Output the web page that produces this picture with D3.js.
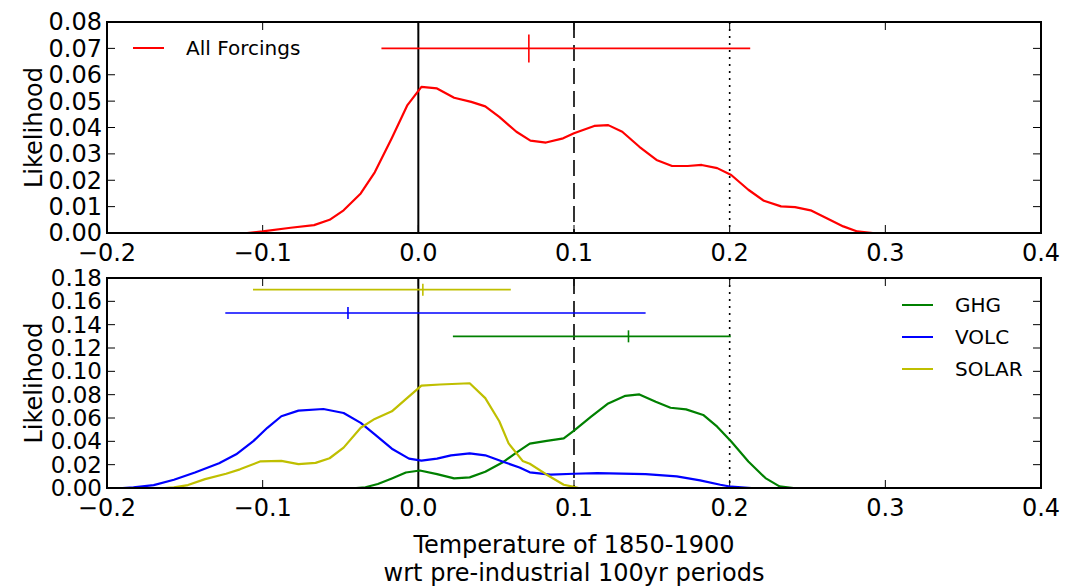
<!DOCTYPE html>
<html>
<head>
<meta charset="utf-8">
<script src="https://cdn.jsdelivr.net/npm/d3@7"></script>
<style>
  body { margin: 0; background: #fff; }
  text { font-family: "DejaVu Sans", sans-serif; fill: #000; }
</style>
</head>
<body>
<div id="chart"></div>
<script>
// ---- data ----
let allX = [-0.110,-0.100,-0.082,-0.067,-0.057,-0.048,-0.037,-0.028,-0.017,-0.007,0.002,0.012,0.023,0.034,0.043,0.052,0.063,0.072,0.082,0.093,0.100,0.113,0.122,0.131,0.142,0.153,0.163,0.173,0.182,0.192,0.201,0.212,0.222,0.233,0.242,0.252,0.263,0.273,0.282,0.292]
let allY = [0,0.0006,0.002,0.003,0.005,0.0086,0.015,0.023,0.036,0.0485,0.0554,0.0548,0.0513,0.0497,0.048,0.044,0.0384,0.035,0.0343,0.0359,0.0378,0.0406,0.0409,0.0384,0.0327,0.0277,0.0254,0.0254,0.0258,0.0246,0.022,0.0164,0.0122,0.0101,0.0098,0.0086,0.0054,0.0025,0.0006,0]

let ghgX = [-0.040,-0.034,-0.026,-0.017,-0.008,0.001,0.012,0.023,0.033,0.043,0.054,0.063,0.0716,0.0825,0.0934,0.100,0.111,0.122,0.133,0.142,0.1525,0.162,0.172,0.183,0.192,0.201,0.212,0.223,0.232,0.241]
let ghgY = [0,0.0006,0.0034,0.0082,0.0133,0.015,0.0119,0.0082,0.0091,0.0139,0.0218,0.0303,0.038,0.0404,0.0426,0.0492,0.0611,0.0725,0.079,0.0802,0.0739,0.0688,0.0674,0.0626,0.0526,0.0398,0.0227,0.0085,0.0014,0]

let volcX = [-0.190,-0.183,-0.170,-0.157,-0.1435,-0.128,-0.117,-0.106,-0.097,-0.088,-0.077,-0.061,-0.048,-0.037,-0.028,-0.017,-0.006,0.002,0.012,0.021,0.033,0.043,0.054,0.065,0.0716,0.085,0.100,0.115,0.146,0.166,0.181,0.194,0.201,0.214]
let volcY = [0,0.0006,0.0025,0.0071,0.0133,0.0212,0.0289,0.0402,0.0516,0.0615,0.0663,0.0677,0.0643,0.0558,0.0459,0.0337,0.0252,0.0235,0.0252,0.028,0.0297,0.028,0.0227,0.0176,0.0134,0.0114,0.0122,0.0128,0.0119,0.010,0.0065,0.0028,0.0011,0]

let solarX = [-0.163,-0.157,-0.148,-0.137,-0.1235,-0.1146,-0.1013,-0.088,-0.077,-0.066,-0.057,-0.048,-0.037,-0.028,-0.017,-0.008,0.002,0.014,0.033,0.043,0.052,0.058,0.067,0.0716,0.0825,0.0934,0.100,0.103]
let solarY = [0,0.0006,0.0025,0.0076,0.0122,0.016,0.0229,0.0232,0.0204,0.0215,0.0255,0.0346,0.0516,0.0592,0.0657,0.0762,0.0878,0.0887,0.0898,0.077,0.0572,0.0382,0.0232,0.0208,0.0114,0.0028,0.0009,0]

// error bars: [low, best, high] drawn at a fixed likelihood level
let allErr = [-0.0237, 0.071, 0.2132], allErrLevel = 0.07
let ghgErr = [0.0222, 0.135, 0.2007], ghgErrLevel = 0.13
let volcErr = [-0.124, -0.0452, 0.146], volcErrLevel = 0.15
let solarErr = [-0.1062, 0.0029, 0.0594], solarErrLevel = 0.17

let xTicks = [-0.2, -0.1, 0.0, 0.1, 0.2, 0.3, 0.4]
let yTicksTop = [0, 0.01, 0.02, 0.03, 0.04, 0.05, 0.06, 0.07, 0.08]
let yTicksBot = [0, 0.02, 0.04, 0.06, 0.08, 0.10, 0.12, 0.14, 0.16, 0.18]
let refLines = [0.0, 0.1, 0.2]   // solid, dashed, dotted

const RED = "#ff0000", GREEN = "#008000", BLUE = "#0000ff", YELLOW = "#bfbf00"

let width = 1067, height = 588
let left = 107, right = 1041

let svg = d3.select("#chart").append("svg")
    .attr("width", width)
    .attr("height", height)

let x = d3.scaleLinear().domain([-0.2, 0.4]).range([left, right])

function fmtX(d){ return (d < 0 ? "\u2212" : "") + Math.abs(d).toFixed(1) }

// draw one panel frame with ticks, labels, reference lines
function panel(top, bottom, yMax, yTicks, yFmt, yFont){
    let y = d3.scaleLinear().domain([0, yMax]).range([bottom, top])
    let g = svg.append("g")

    // reference lines
    refLines.forEach(function(v, i){
        g.append("line")
            .attr("x1", x(v)).attr("x2", x(v))
            .attr("y1", top).attr("y2", bottom)
            .attr("stroke", "#000")
            .attr("stroke-width", i == 0 ? 2 : 1.6)
            .attr("stroke-dasharray", i == 1 ? "16,7" : (i == 2 ? "2,5" : null))
    })

    // inward ticks on all four sides
    let tl = 8
    xTicks.forEach(function(v){
        g.append("line").attr("x1", x(v)).attr("x2", x(v)).attr("y1", bottom).attr("y2", bottom - tl).attr("stroke", "#000")
        g.append("line").attr("x1", x(v)).attr("x2", x(v)).attr("y1", top).attr("y2", top + tl).attr("stroke", "#000")
        g.append("text")
            .attr("x", x(v)).attr("y", bottom + 28)
            .attr("text-anchor", "middle")
            .style("font-size", "24px")
            .text(fmtX(v))
    })
    yTicks.forEach(function(v){
        g.append("line").attr("x1", left).attr("x2", left + tl).attr("y1", y(v)).attr("y2", y(v)).attr("stroke", "#000")
        g.append("line").attr("x1", right).attr("x2", right - tl).attr("y1", y(v)).attr("y2", y(v)).attr("stroke", "#000")
        g.append("text")
            .attr("x", left - 5).attr("y", y(v) + yFont * 0.35)
            .attr("text-anchor", "end")
            .style("font-size", yFont + "px")
            .text(yFmt(v))
    })

    // y label
    g.append("text")
        .attr("transform", `translate(${42}, ${(top + bottom) / 2}) rotate(-90)`)
        .attr("text-anchor", "middle")
        .style("font-size", "24px")
        .text("Likelihood")

    return {g: g, y: y, top: top, bottom: bottom}
}

function curve(p, xs, ys, color){
    let pts = xs.map(function(d, i){ return [d, ys[i]] })
    let line = d3.line().x(function(d){ return x(d[0]) }).y(function(d){ return p.y(d[1]) })
    p.g.append("path")
        .datum(pts)
        .attr("d", line)
        .attr("fill", "none")
        .attr("stroke", color)
        .attr("stroke-width", 2.2)
        .attr("stroke-linejoin", "round")
}

function errbar(p, err, level, color, half){
    let yy = p.y(level)
    p.g.append("line")
        .attr("x1", x(err[0])).attr("x2", x(err[2]))
        .attr("y1", yy).attr("y2", yy)
        .attr("stroke", color).attr("stroke-width", 1.6)
    p.g.append("line")
        .attr("x1", x(err[1])).attr("x2", x(err[1]))
        .attr("y1", yy - half).attr("y2", yy + half)
        .attr("stroke", color).attr("stroke-width", 1.6)
}

function frame(p){
    p.g.append("rect")
        .attr("x", left).attr("y", p.top)
        .attr("width", right - left).attr("height", p.bottom - p.top)
        .attr("fill", "none").attr("stroke", "#000").attr("stroke-width", 2)
}

function legend(p, items, lx, ly, step){
    items.forEach(function(it, i){
        let yy = ly + i * step
        p.g.append("line")
            .attr("x1", lx).attr("x2", lx + 31)
            .attr("y1", yy).attr("y2", yy)
            .attr("stroke", it[1]).attr("stroke-width", 2)
        p.g.append("text")
            .attr("x", lx + 53).attr("y", yy + 7)
            .style("font-size", "20px")
            .text(it[0])
    })
}

// ---- top panel ----
let topP = panel(22, 233, 0.08, yTicksTop, function(d){ return d.toFixed(2) }, 24)
curve(topP, allX, allY, RED)
errbar(topP, allErr, allErrLevel, RED, 14)
frame(topP)
legend(topP, [["All Forcings", RED]], 133, 48, 32)

// ---- bottom panel ----
let botP = panel(278, 488, 0.18, yTicksBot, function(d){ return d.toFixed(2) }, 23)
curve(botP, ghgX, ghgY, GREEN)
curve(botP, volcX, volcY, BLUE)
curve(botP, solarX, solarY, YELLOW)
errbar(botP, solarErr, solarErrLevel, YELLOW, 6)
errbar(botP, volcErr, volcErrLevel, BLUE, 6)
errbar(botP, ghgErr, ghgErrLevel, GREEN, 6)
frame(botP)
legend(botP, [["GHG", GREEN], ["VOLC", BLUE], ["SOLAR", YELLOW]], 902, 305, 32)

// x label
svg.append("text")
    .attr("x", (left + right) / 2).attr("y", 553)
    .attr("text-anchor", "middle")
    .style("font-size", "24px")
    .text("Temperature of 1850-1900")
svg.append("text")
    .attr("x", (left + right) / 2).attr("y", 581)
    .attr("text-anchor", "middle")
    .style("font-size", "24px")
    .text("wrt pre-industrial 100yr periods")
</script>
</body>
</html>
